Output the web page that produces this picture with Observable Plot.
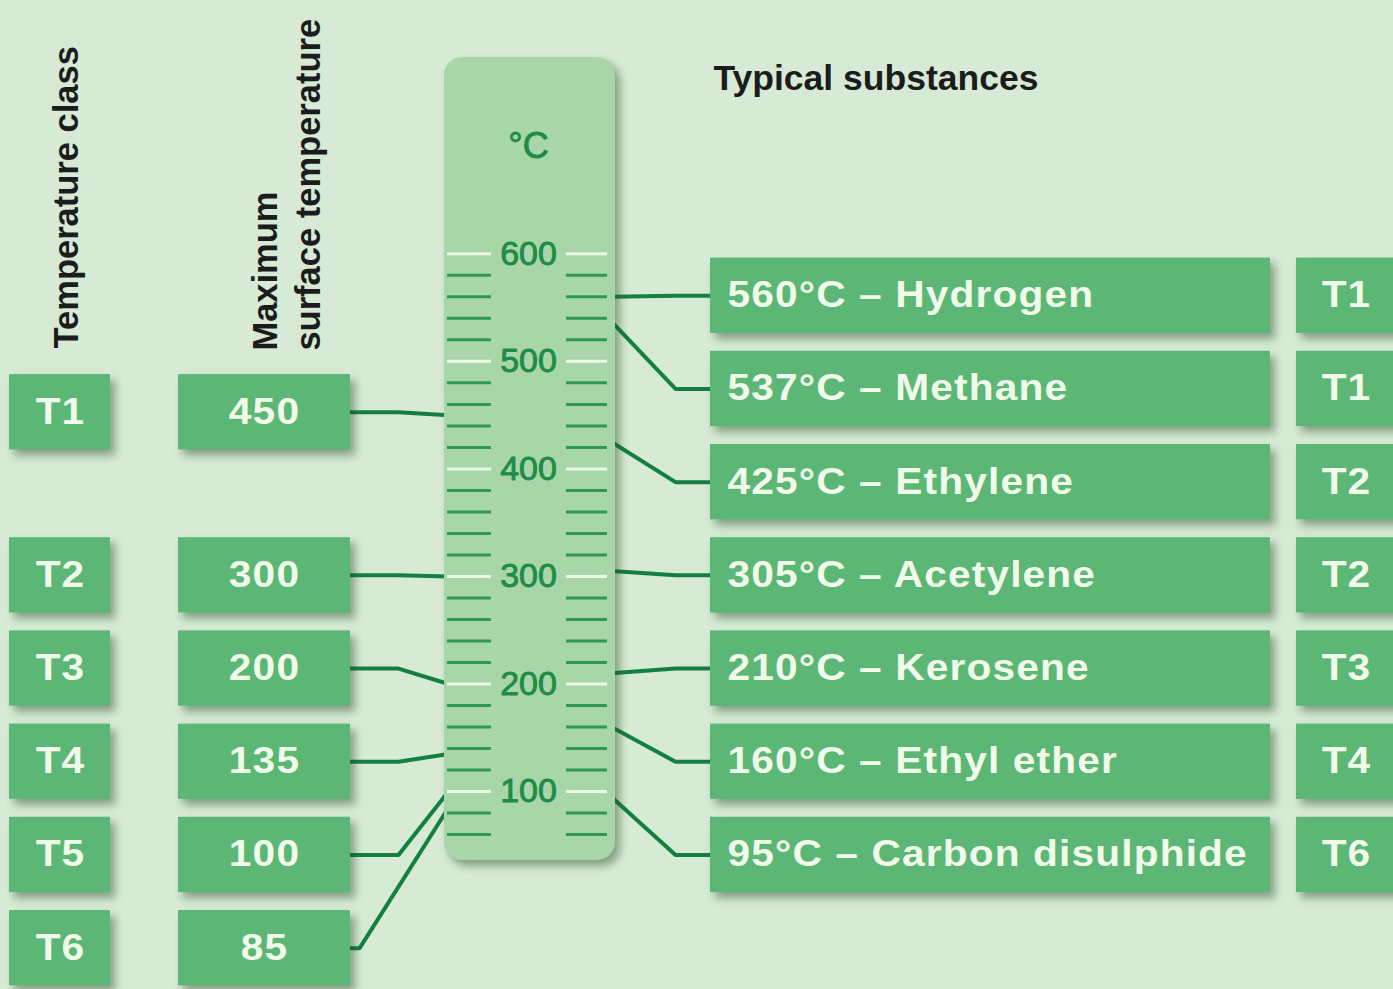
<!DOCTYPE html>
<html><head><meta charset="utf-8">
<script src="https://cdn.jsdelivr.net/npm/d3@7"></script>
<script src="https://cdn.jsdelivr.net/npm/@observablehq/plot@0.6"></script>
<style>
html,body{margin:0;padding:0;background:#d6ead5;overflow:hidden;}
#chart svg{display:block;}
.boxlabel text{letter-spacing:1px;}
</style></head><body><div id="chart"></div>
<script>
// ---- data ----
const classes = ["T1", "T2", "T3", "T4", "T5", "T6"];
const maxSurfaceTemp = [450, 300, 200, 135, 100, 85];
const substances = ["Hydrogen", "Methane", "Ethylene", "Acetylene", "Kerosene", "Ethyl ether", "Carbon disulphide"];
const ignitionTemp = [560, 537, 425, 305, 210, 160, 95];
const substanceClass = ["T1", "T1", "T2", "T2", "T3", "T4", "T6"];
const scaleLabels = [100, 200, 300, 400, 500, 600];
const headers = ["Temperature class", "Maximum\nsurface temperature", "Typical substances"];

// ---- layout ----
const W = 1393, H = 989;
const rowT = k => 561 - 86.65 * k;      // row centre, in °C units of the y scale
const halfBox = 35;
const col = {cls: [9, 110], max: [178, 350], thermo: [444, 615], sub: [710, 1270], clsR: [1296, 1420]};
const C = {bg: "#d6ead5", box: "#5cb675", boxText: "#f0fbea", thermo: "#a9d6a9", line: "#13803f",
           minor: "#2f9857", major: "#eef8e6", label: "#1e8c48", head: "#1c1c1c"};
const shadow = "drop-shadow(5px 6px 4px rgba(30,70,30,0.45))";
const font = "Liberation Sans, Arial, Helvetica, sans-serif";

const leftRows = classes.map((c, i) => ({cls: c, temp: maxSurfaceTemp[i], k: i === 0 ? 1.25 : i + 2}));
const rightRows = substances.map((s, i) => ({name: s, temp: ignitionTemp[i], cls: substanceClass[i], k: i}));
const ticks = d3.range(60, 601, 20);
const minor = ticks.filter(t => t % 100 !== 0);

const leftLinks = leftRows.flatMap((r, i) => {
  const y0 = rowT(r.k);
  const off = Math.max(46, 0.65 * Math.abs(y0 - r.temp));
  return [{id: i, x: col.max[1], y: y0}, {id: i, x: col.thermo[0] - off, y: y0}, {id: i, x: col.thermo[0] + 4, y: r.temp}];
});
const rightLinks = rightRows.flatMap((r, i) => [
  {id: i, x: col.thermo[1] - 4, y: r.temp}, {id: i, x: 675, y: rowT(r.k)}, {id: i, x: col.sub[0] + 2, y: rowT(r.k)}
]);

const boxRect = (data, xr) => Plot.rect(data, {
  x1: xr[0], x2: xr[1], y1: d => rowT(d.k) - halfBox, y2: d => rowT(d.k) + halfBox,
  fill: C.box, imageFilter: shadow
});
const boxText = (data, x, text, anchor = "middle") => Plot.text(data, {
  x, y: d => rowT(d.k), text, textAnchor: anchor, fill: C.boxText, fontSize: 36,
  fontWeight: "bold", fontFamily: font, className: "boxlabel"
});

const chart = Plot.plot({
  width: W, height: H, margin: 0,
  style: {background: C.bg, fontFamily: font},
  x: {domain: [0, W], axis: null},
  y: {domain: [-84, 835.5], axis: null},
  marks: [
    Plot.line(leftLinks, {x: "x", y: "y", z: "id", stroke: C.line, strokeWidth: 4, strokeLinejoin: "miter"}),
    Plot.line(rightLinks, {x: "x", y: "y", z: "id", stroke: C.line, strokeWidth: 4, strokeLinejoin: "miter"}),
    // thermometer
    Plot.rect([0], {x1: col.thermo[0], x2: col.thermo[1], y1: 36, y2: 782.5, fill: C.thermo, rx: 18, imageFilter: shadow}),
    Plot.ruleY(minor, {x1: 447, x2: 491, stroke: C.minor, strokeWidth: 3}),
    Plot.ruleY(minor, {x1: 566, x2: 607, stroke: C.minor, strokeWidth: 3}),
    Plot.ruleY(scaleLabels, {x1: 447, x2: 491, stroke: C.major, strokeWidth: 3}),
    Plot.ruleY(scaleLabels, {x1: 566, x2: 607, stroke: C.major, strokeWidth: 3}),
    Plot.text(scaleLabels, {x: 528, y: d => d, text: d => String(d), fill: C.label, stroke: C.label, strokeWidth: 0.9, fontSize: 34, fontFamily: font}),
    Plot.text(["°C"], {x: 528, y: 700, text: d => d, fill: C.label, stroke: C.label, strokeWidth: 0.9, fontSize: 36, fontFamily: font}),
    // headers
    Plot.text([headers[0]], {x: 66, y: 512, text: d => d, rotate: -90, textAnchor: "start", fill: C.head, fontSize: 34.5, fontWeight: "bold", fontFamily: font}),
    Plot.text([headers[1]], {x: 284, y: 510, text: d => d, rotate: -90, textAnchor: "start", lineHeight: 1.27, fill: C.head, fontSize: 34.5, fontWeight: "bold", fontFamily: font}),
    Plot.text([headers[2]], {x: 713, y: 763, text: d => d, textAnchor: "start", fill: C.head, fontSize: 35.5, fontWeight: "bold", fontFamily: font}),
    // left boxes
    boxRect(leftRows, col.cls),
    boxRect(leftRows, col.max),
    boxText(leftRows, 60, d => d.cls),
    boxText(leftRows, 264, d => String(d.temp)),
    // right boxes
    boxRect(rightRows, col.sub),
    boxRect(rightRows, col.clsR),
    boxText(rightRows, 727, d => `${d.temp}°C – ${d.name}`, "start"),
    boxText(rightRows, 1346, d => d.cls)
  ]
});
document.getElementById("chart").appendChild(chart);
// widen the box lettering slightly, as in the original artwork
d3.select(chart).selectAll(".boxlabel text").each(function () {
  const w = this.getComputedTextLength();
  this.setAttribute("textLength", (w * 1.13).toFixed(1));
  this.setAttribute("lengthAdjust", "spacingAndGlyphs");
});
</script></body></html>
